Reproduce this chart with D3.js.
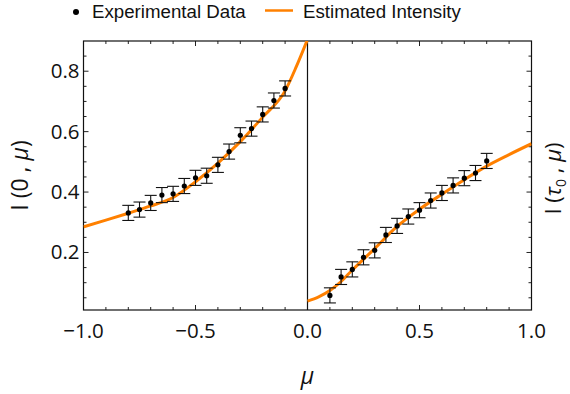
<!DOCTYPE html>
<html>
<head>
<meta charset="utf-8">
<script src="https://cdn.jsdelivr.net/npm/d3@7"></script>
<style>
  body { margin: 0; background: #fff; }
  svg { display: block; }
  text { font-family: "Open Sans", "Noto Sans", sans-serif; fill: #111; }
</style>
</head>
<body>
<div id="chart"></div>
<script>
// experimental points, left half (mu < 0) and right half (mu > 0)
const muLeft = [-0.8, -0.75, -0.7, -0.65, -0.6, -0.55, -0.5, -0.45, -0.4, -0.35, -0.3, -0.25, -0.2, -0.15, -0.1];
const intLeft = [0.331, 0.342, 0.364, 0.390, 0.394, 0.420, 0.447, 0.454, 0.490, 0.534, 0.588, 0.610, 0.657, 0.703, 0.743];
const muRight = [0.1, 0.15, 0.2, 0.25, 0.3, 0.35, 0.4, 0.45, 0.5, 0.55, 0.6, 0.65, 0.7, 0.75, 0.8];
const intRight = [0.058, 0.119, 0.144, 0.184, 0.207, 0.258, 0.288, 0.319, 0.340, 0.372, 0.397, 0.422, 0.446, 0.463, 0.503];
const errHalf = 0.025;

// estimated intensity curve
const curveMuLeft = [-1.0, -0.9, -0.8, -0.7, -0.6, -0.5, -0.4, -0.3, -0.2, -0.1, -0.05, 0.0];
const curveIntLeft = [0.285, 0.307, 0.330, 0.354, 0.382, 0.434, 0.496, 0.567, 0.648, 0.735, 0.815, 0.905];
const curveMuRight = [0.0, 0.05, 0.1, 0.15, 0.2, 0.3, 0.4, 0.5, 0.6, 0.7, 0.8, 0.9, 1.0];
const curveIntRight = [0.039, 0.053, 0.074, 0.104, 0.142, 0.213, 0.286, 0.343, 0.393, 0.441, 0.486, 0.524, 0.560];

const xTicks = [-1.0, -0.5, 0.0, 0.5, 1.0];
const yTicks = [0.2, 0.4, 0.6, 0.8];

const width = 570, height = 394;
const margin = { left: 83.5, right: 38.5, top: 41, bottom: 84 };
const orange = "#ff8000";

const svg = d3.select("#chart").append("svg")
    .attr("width", width)
    .attr("height", height);

const x = d3.scaleLinear().domain([-1, 1]).range([margin.left, width - margin.right]);
const y = d3.scaleLinear().domain([0.0096, 0.9]).range([height - margin.bottom, margin.top]);

const x0 = margin.left, x1 = width - margin.right;
const y0 = height - margin.bottom, y1 = margin.top;

// clip region for the curve
svg.append("defs").append("clipPath").attr("id", "plotclip")
    .append("rect")
    .attr("x", x0).attr("y", y1)
    .attr("width", x1 - x0).attr("height", y0 - y1);

// ticks (inward), major + minor
const minorX = d3.range(-10, 11).map((d) => d / 10).filter((d) => !xTicks.some((t) => Math.abs(t - d) < 1e-9));
const minorY = d3.range(1, 18).map((d) => d * 0.05).filter((d) => !yTicks.some((t) => Math.abs(t - d) < 1e-9));

const ticks = svg.append("g").attr("stroke", "#222").attr("stroke-width", 1);
xTicks.forEach((t) => {
    ticks.append("line").attr("x1", x(t)).attr("x2", x(t)).attr("y1", y0).attr("y2", y0 - 5);
    ticks.append("line").attr("x1", x(t)).attr("x2", x(t)).attr("y1", y1).attr("y2", y1 + 5);
});
minorX.forEach((t) => {
    ticks.append("line").attr("x1", x(t)).attr("x2", x(t)).attr("y1", y0).attr("y2", y0 - 3);
    ticks.append("line").attr("x1", x(t)).attr("x2", x(t)).attr("y1", y1).attr("y2", y1 + 3);
});
yTicks.forEach((t) => {
    ticks.append("line").attr("y1", y(t)).attr("y2", y(t)).attr("x1", x0).attr("x2", x0 + 5);
    ticks.append("line").attr("y1", y(t)).attr("y2", y(t)).attr("x1", x1).attr("x2", x1 - 5);
});
minorY.forEach((t) => {
    ticks.append("line").attr("y1", y(t)).attr("y2", y(t)).attr("x1", x0).attr("x2", x0 + 3);
    ticks.append("line").attr("y1", y(t)).attr("y2", y(t)).attr("x1", x1).attr("x2", x1 - 3);
});

// frame
svg.append("rect")
    .attr("x", x0).attr("y", y1)
    .attr("width", x1 - x0).attr("height", y0 - y1)
    .attr("fill", "none").attr("stroke", "#111").attr("stroke-width", 1.2);

// vertical divider at mu = 0
svg.append("line")
    .attr("x1", x(0)).attr("x2", x(0))
    .attr("y1", y1).attr("y2", y0)
    .attr("stroke", "#111").attr("stroke-width", 1.2);

// tick labels
const fmt = (d) => d3.format(".1f")(d).replace("-", "\u2212");
svg.append("g").selectAll("text")
    .data(xTicks).join("text")
    .attr("x", (d) => x(d))
    .attr("y", y0 + 28)
    .attr("text-anchor", "middle")
    .style("font-size", "20.5px")
    .text(fmt);

svg.append("g").selectAll("text")
    .data(yTicks).join("text")
    .attr("x", x0 - 4)
    .attr("y", (d) => y(d) + 7)
    .attr("text-anchor", "end")
    .style("font-size", "20.5px")
    .text((d) => d3.format(".1f")(d));

// estimated curves
const line = d3.line()
    .x((d) => x(d[0]))
    .y((d) => y(d[1]))
    .curve(d3.curveMonotoneX);

const curveG = svg.append("g").attr("clip-path", "url(#plotclip)");
[[curveMuLeft, curveIntLeft], [curveMuRight, curveIntRight]].forEach(([mus, vals]) => {
    curveG.append("path")
        .datum(mus.map((m, i) => [m, vals[i]]))
        .attr("fill", "none")
        .attr("stroke", orange)
        .attr("stroke-width", 3)
        .attr("d", line);
});

// error bars and points
const pts = muLeft.map((m, i) => [m, intLeft[i]]).concat(muRight.map((m, i) => [m, intRight[i]]));
const eb = svg.append("g").attr("stroke", "#111").attr("stroke-width", 1.1);
pts.forEach(([m, v]) => {
    eb.append("line").attr("x1", x(m)).attr("x2", x(m)).attr("y1", y(v - errHalf)).attr("y2", y(v + errHalf));
    eb.append("line").attr("x1", x(m) - 6).attr("x2", x(m) + 6).attr("y1", y(v - errHalf)).attr("y2", y(v - errHalf));
    eb.append("line").attr("x1", x(m) - 6).attr("x2", x(m) + 6).attr("y1", y(v + errHalf)).attr("y2", y(v + errHalf));
});
svg.append("g").selectAll("circle")
    .data(pts).join("circle")
    .attr("cx", (d) => x(d[0]))
    .attr("cy", (d) => y(d[1]))
    .attr("r", 2.6)
    .attr("fill", "#000");

// axis titles
const lt = svg.append("text")
    .attr("transform", `translate(28,${(y0 + y1) / 2}) rotate(-90)`)
    .attr("text-anchor", "middle")
    .style("font-size", "23px");
lt.append("tspan").text("I (0 , ");
lt.append("tspan").style("font-style", "italic").text("μ");
lt.append("tspan").text(")");

const rt = svg.append("text")
    .attr("transform", `translate(561,${(y0 + y1) / 2 + 3}) rotate(-90)`)
    .attr("text-anchor", "middle")
    .style("font-size", "22px");
rt.append("tspan").text("I (");
rt.append("tspan").style("font-style", "italic").text("τ");
rt.append("tspan").attr("dy", 5).style("font-size", "14px").text("0");
rt.append("tspan").attr("dy", -5).text(" , ");
rt.append("tspan").style("font-style", "italic").text("μ");
rt.append("tspan").text(")");

svg.append("text")
    .attr("x", x(0))
    .attr("y", 384)
    .attr("text-anchor", "middle")
    .style("font-size", "23px")
    .style("font-style", "italic")
    .text("μ");

// legend
const lg = svg.append("g");
lg.append("circle").attr("cx", 76).attr("cy", 12).attr("r", 3).attr("fill", "#000");
lg.append("text").attr("x", 92).attr("y", 18).style("font-size", "18.7px")
    .style("font-family", "'Liberation Sans', Arial, sans-serif").text("Experimental Data");
lg.append("line").attr("x1", 265).attr("x2", 293).attr("y1", 10.5).attr("y2", 10.5)
    .attr("stroke", orange).attr("stroke-width", 2.5);
lg.append("text").attr("x", 303).attr("y", 18).style("font-size", "18.7px")
    .style("font-family", "'Liberation Sans', Arial, sans-serif").text("Estimated Intensity");
</script>
</body>
</html>
